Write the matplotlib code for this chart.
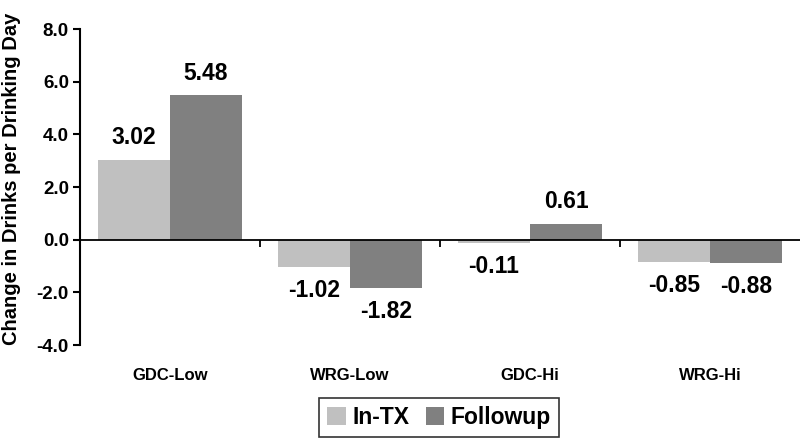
import numpy as np
import matplotlib.pyplot as plt
from matplotlib.ticker import FormatStrFormatter
from matplotlib.transforms import blended_transform_factory

plt.rcParams['font.family'] = ['Liberation Sans', 'DejaVu Sans']
plt.rcParams['font.weight'] = 'bold'

# datos
grupos = ['GDC-Low', 'WRG-Low', 'GDC-Hi', 'WRG-Hi']
in_tx = [3.02, -1.02, -0.11, -0.85]
followup = [5.48, -1.82, 0.61, -0.88]
series = ['In-TX', 'Followup']
colores = ['#c0c0c0', '#808080']

fig = plt.figure(figsize=(8, 4.47), dpi=100)
ax = fig.add_axes([0.1, 0.228, 0.9, 0.707])

x = np.arange(len(grupos))
ancho = 0.4
barras1 = ax.bar(x - ancho / 2, in_tx, ancho, color=colores[0], label=series[0])
barras2 = ax.bar(x + ancho / 2, followup, ancho, color=colores[1], label=series[1])

# etiquetas de valores
for barras, vals in [(barras1, in_tx), (barras2, followup)]:
    for b, v in zip(barras, vals):
        off = 16 if v >= 0 else -17
        ax.annotate('%.2f' % v, (b.get_x() + b.get_width() / 2, v),
                    xytext=(0, off), textcoords='offset points',
                    ha='center', va='center', fontsize=16.5, fontweight='bold')

ax.set_xlim(-0.5, 3.5)
ax.set_ylim(-4, 8)
ax.set_yticks(np.arange(-4, 8.1, 2))
ax.yaxis.set_major_formatter(FormatStrFormatter('%.1f'))
ax.tick_params(axis='y', direction='out', length=5, width=1.5, labelsize=13.5, pad=3)
ax.set_ylabel('Change in Drinks per Drinking Day', fontsize=14.5, fontweight='bold')
ax.yaxis.set_label_coords(-0.082, 0.525)

# eje x en el cero, marcas entre grupos
ax.spines['top'].set_visible(False)
ax.spines['right'].set_visible(False)
ax.spines['bottom'].set_position(('data', 0))
ax.spines['bottom'].set_linewidth(1.3)
ax.spines['left'].set_linewidth(1.5)
ax.set_xticks(x[:-1] + 0.5)
ax.set_xticklabels([])
ax.tick_params(axis='x', direction='out', length=5, width=1.3)

trans = blended_transform_factory(ax.transData, ax.transAxes)
for xi, g in zip(x, grupos):
    ax.text(xi, -0.095, g, transform=trans, ha='center', va='center',
            fontsize=12, fontweight='bold')

leg = fig.legend(loc='lower center', bbox_to_anchor=(0.549, -0.003), ncol=2,
                 fontsize=16.5, frameon=True, fancybox=False, edgecolor='black',
                 handlelength=0.8, handleheight=0.8, handletextpad=0.3,
                 columnspacing=0.7, borderpad=0.35)
leg.get_frame().set_linewidth(1.2)
for t in leg.get_texts():
    t.set_fontweight('bold')

fig.savefig('out.png', dpi=100)
